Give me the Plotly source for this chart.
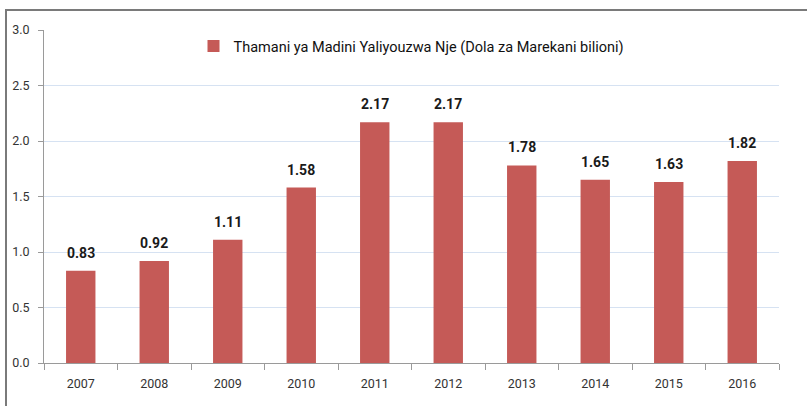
import plotly.graph_objects as go

years = ["2007", "2008", "2009", "2010", "2011", "2012", "2013", "2014", "2015", "2016"]
values = [0.83, 0.92, 1.11, 1.58, 2.17, 2.17, 1.78, 1.65, 1.63, 1.82]
labels = ["0.83", "0.92", "1.11", "1.58", "2.17", "2.17", "1.78", "1.65", "1.63", "1.82"]
series_name = "Thamani ya Madini Yaliyouzwa Nje (Dola za Marekani bilioni)"
y_ticks = [0, 0.5, 1.0, 1.5, 2.0, 2.5, 3.0]
y_tick_text = ["0.0", "0.5", "1.0", "1.5", "2.0", "2.5", "3.0"]

W, H = 807, 406
L, R, T, B = 44, 28, 30, 43
pw, ph = W - L - R, H - T - B

font_family = "Roboto, Liberation Sans, sans-serif"

fig = go.Figure()
fig.add_trace(go.Bar(
    x=years, y=values, name=series_name,
    marker=dict(color="#C55A57", line=dict(width=0)),
    showlegend=True, hoverinfo="x+y",
))

annotations = [
    dict(x=i, y=v, text=lbl, xref="x", yref="y", showarrow=False,
         yanchor="bottom", yshift=8,
         font=dict(family=font_family, size=14, color="#1a1a1a", weight="bold"))
    for i, (v, lbl) in enumerate(zip(values, labels))
]

fig.update_layout(
    width=W, height=H,
    margin=dict(l=L, r=R, t=T, b=B),
    paper_bgcolor="white", plot_bgcolor="white",
    bargap=0.6,
    font=dict(family=font_family, size=12, color="#222222"),
    legend=dict(x=0.5, y=1.0, xanchor="center", yanchor="top",
                orientation="h", bgcolor="rgba(0,0,0,0)",
                font=dict(family=font_family, size=14.5, color="#111111")),
    xaxis=dict(type="category", categoryorder="array", categoryarray=years,
               range=[-0.5, len(years) - 0.5],
               tickson="boundaries", ticks="outside", ticklen=6,
               tickcolor="#9a9a9a", showline=True, linecolor="#9a9a9a", linewidth=1,
               showgrid=False, automargin=False, ticklabelstandoff=9,
               tickfont=dict(size=12.5, color="#333333")),
    yaxis=dict(range=[0, 3], tickvals=y_ticks, ticktext=y_tick_text,
               ticks="outside", ticklen=5, tickcolor="#9a9a9a",
               showline=True, linecolor="#9a9a9a", linewidth=1,
               showgrid=True, gridcolor="#D6E2F2", gridwidth=1, automargin=False,
               zeroline=False, ticklabelstandoff=6,
               tickfont=dict(size=12.5, color="#333333")),
    annotations=annotations,
    shapes=[
        dict(type="line", xref="paper", yref="paper",
             x0=(6 - L) / pw, x1=(6 - L) / pw, y0=1 + (T - 9) / ph, y1=-(B + 5) / ph,
             line=dict(color="#7a7a7a", width=2)),
        dict(type="line", xref="paper", yref="paper",
             x0=(6 - L) / pw, x1=(W + 5 - L) / pw, y0=1 + (T - 10) / ph, y1=1 + (T - 10) / ph,
             line=dict(color="#7a7a7a", width=2)),
    ],
)

fig.write_html("out.html", config={"displayModeBar": False},
               post_script="document.body.style.margin='0';document.body.style.overflow='hidden';")
